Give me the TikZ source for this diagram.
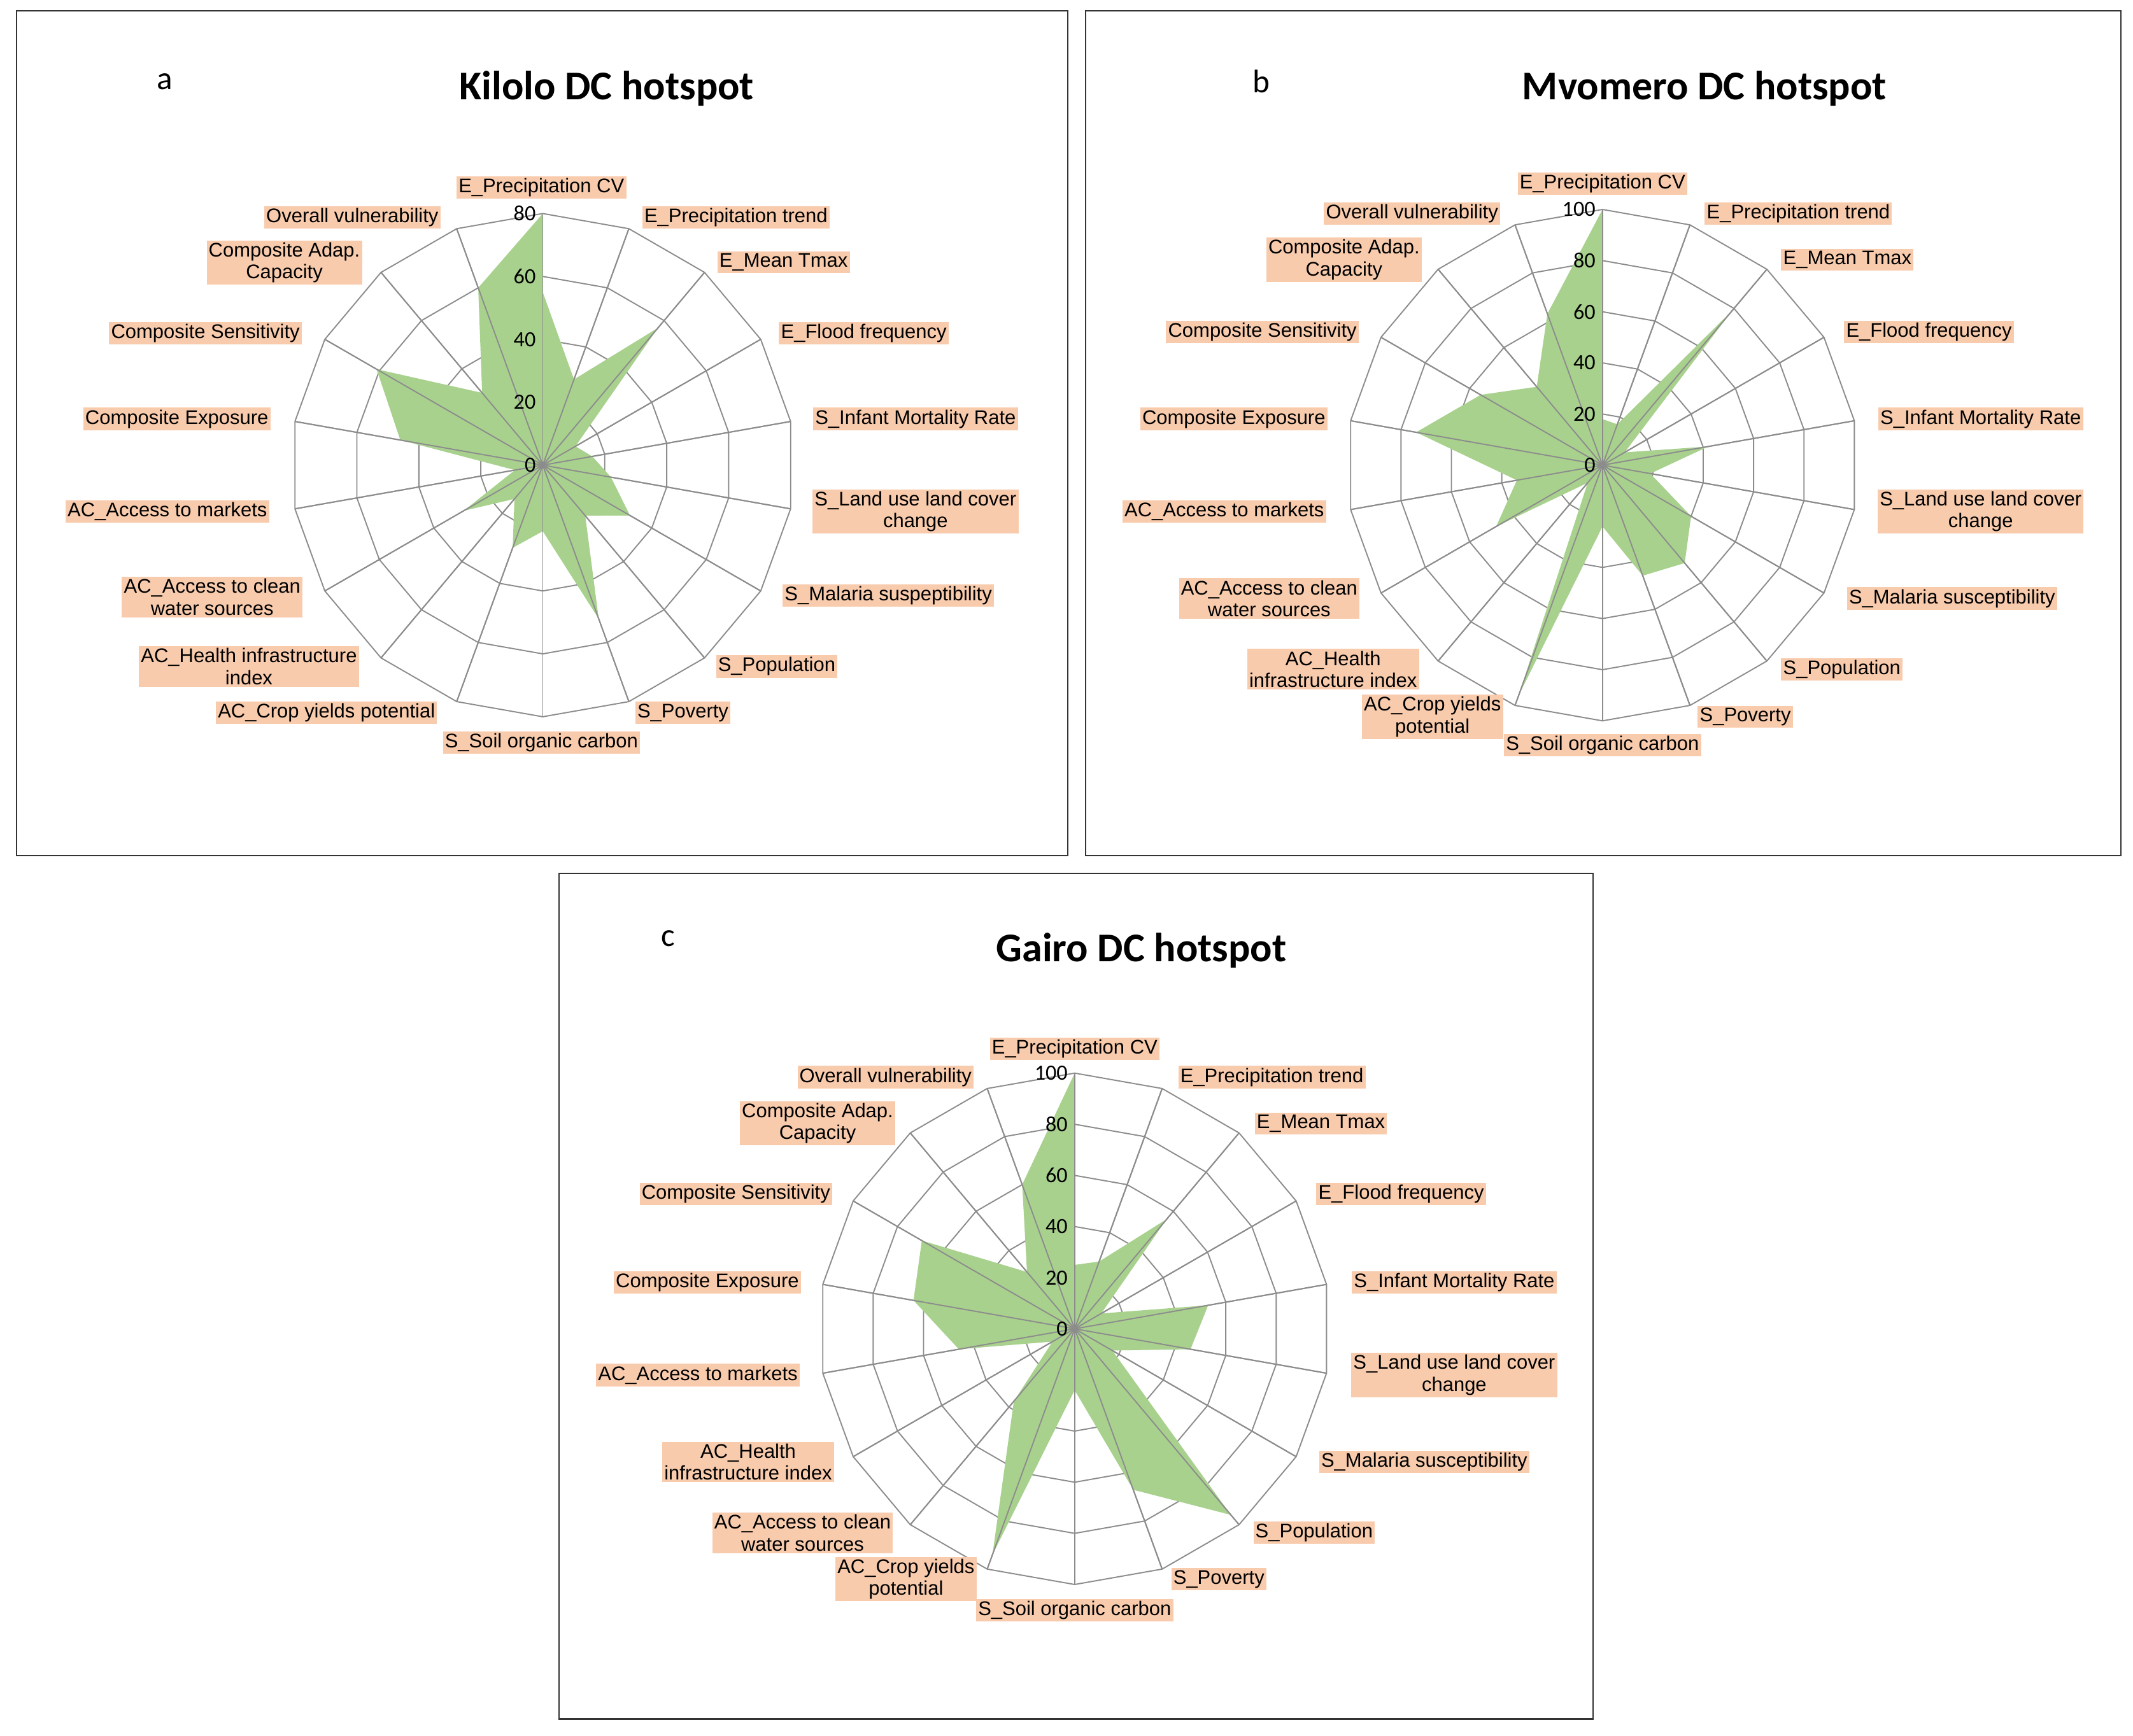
\documentclass[tikz,border=0pt]{standalone}
\usepackage{fontspec}
\setmainfont{Liberation Sans}
\newfontfamily\carl{Carlito}
\definecolor{peach}{HTML}{F8CBAD}
\definecolor{grn}{HTML}{A9D18E}
\definecolor{gridc}{HTML}{8C8C8C}
\tikzset{
 lab/.style={fill=peach,inner sep=1.5pt,font=\fontsize{14.5}{16}\selectfont,align=center},
 tick/.style={font=\carl\fontsize{16}{16}\selectfont,anchor=east,inner sep=1pt},
 ttl/.style={font=\carl\bfseries\fontsize{30}{30}\selectfont},
 letter/.style={font=\carl\fontsize{24}{24}\selectfont},
 grid/.style={draw=gridc,line width=0.9pt},
 frame/.style={draw=black!80,line width=1pt},
}
\newcommand\myradar[6]{% cx cy R nrings maxval values
 \foreach \k in {1,...,#4}{
  \draw[grid] plot[samples at={0,20,...,340}] ({#1+\k/#4*#3*sin(\x)},{#2-\k/#4*#3*cos(\x)}) -- cycle;}
 \foreach \a in {0,20,...,340}{\draw[grid] (#1,#2) -- ({#1+#3*sin(\a)},{#2-#3*cos(\a)});}
 \fill[grn] ({#1},{#2-#3}) foreach \v [count=\i from 0] in {#6}{ -- ({#1+\v/#5*#3*sin(20*\i)},{#2-\v/#5*#3*cos(20*\i)}) } -- cycle;
 \foreach \a in {0,20,...,340}{\draw[grid] (#1,#2) -- ({#1+#3*sin(\a)},{#2-#3*cos(\a)});}
 \fill[gridc] (#1,#2) circle (2.5);
}
\begin{document}
\begin{tikzpicture}[x=1pt,y=-1pt]
\useasboundingbox[fill=white] (0,0) rectangle (1568,1276);
\draw[frame] (12,8) rectangle (785,629);
\draw[frame] (798,8) rectangle (1559,629);
\draw[frame] (411,642) rectangle (1171,1264);
% ---- a
\myradar{399}{342}{185}{4}{80}{55,29,57,12,16,22,32,21,52,21,28,14,29,9,46,61,30,60}
\foreach \v [count=\k from 0] in {0,20,40,60,80}{\node[tick] (ta\k) at (395,{342-\k*46.25}) {\v};}
\node[letter] (la) at (121,60) {a};
\node[ttl] (tla) at (446,65) {Kilolo DC hotspot};
\node[lab] (a0) at (398,138) {E\_Precipitation CV};
\node[lab] (a1) at (541,160) {E\_Precipitation trend};
\node[lab] (a2) at (576,193) {E\_Mean Tmax};
\node[lab] (a3) at (635,245) {E\_Flood frequency};
\node[lab] (a4) at (673,308) {S\_Infant Mortality Rate};
\node[lab] (a5) at (673,376) {S\_Land use land cover\\change};
\node[lab] (a6) at (653,438) {S\_Malaria suspeptibility};
\node[lab] (a7) at (571,490) {S\_Population};
\node[lab] (a8) at (502,524) {S\_Poverty};
\node[lab] (a9) at (398,546) {S\_Soil organic carbon};
\node[lab] (a10) at (240,524) {AC\_Crop yields potential};
\node[lab] (a11) at (183,490) {AC\_Health infrastructure\\index};
\node[lab] (a12) at (156,439) {AC\_Access to clean\\water sources};
\node[lab] (a13) at (123,376) {AC\_Access to markets};
\node[lab] (a14) at (130,308) {Composite Exposure};
\node[lab] (a15) at (151,245) {Composite Sensitivity};
\node[lab] (a16) at (209,193) {Composite Adap.\\Capacity};
\node[lab] (a17) at (259,160) {Overall vulnerability};
% ---- b
\myradar{1178}{342}{188}{5}{100}{18,17,79,10,42,19,40,50,46,24,96,9,48,34,74,55,40,63}
\foreach \v [count=\k from 0] in {0,20,40,60,80,100}{\node[tick] (tb\k) at (1174,{342-\k*37.6}) {\v};}
\node[letter] (lb) at (927,60) {b};
\node[ttl] (tlb) at (1253,65) {Mvomero DC hotspot};
\node[lab] (b0) at (1178,135) {E\_Precipitation CV};
\node[lab] (b1) at (1322,157) {E\_Precipitation trend};
\node[lab] (b2) at (1358,191) {E\_Mean Tmax};
\node[lab] (b3) at (1418,244) {E\_Flood frequency};
\node[lab] (b4) at (1456,308) {S\_Infant Mortality Rate};
\node[lab] (b5) at (1456,376) {S\_Land use land cover\\change};
\node[lab] (b6) at (1435,440) {S\_Malaria susceptibility};
\node[lab] (b7) at (1354,492) {S\_Population};
\node[lab] (b8) at (1283,527) {S\_Poverty};
\node[lab] (b9) at (1178,548) {S\_Soil organic carbon};
\node[lab] (b11) at (980,492) {AC\_Health\\infrastructure index};
\node[lab] (b10) at (1053,527) {AC\_Crop yields\\potential};
\node[lab] (b12) at (933,440) {AC\_Access to clean\\water sources};
\node[lab] (b13) at (900,376) {AC\_Access to markets};
\node[lab] (b14) at (907,308) {Composite Exposure};
\node[lab] (b15) at (928,244) {Composite Sensitivity};
\node[lab] (b16) at (988,191) {Composite Adap.\\Capacity};
\node[lab] (b17) at (1038,157) {Overall vulnerability};
% ---- c
\myradar{790}{977}{188}{5}{100}{25,28,56,12,53,46,17,95,67,24,94,37,10,46,64,69,29,60}
\foreach \v [count=\k from 0] in {0,20,40,60,80,100}{\node[tick] (tc\k) at (786,{977-\k*37.6}) {\v};}
\node[letter] (lc) at (491,690) {c};
\node[ttl] (tlc) at (839,699) {Gairo DC hotspot};
\node[lab] (c0) at (790,771) {E\_Precipitation CV};
\node[lab] (c1) at (935,792) {E\_Precipitation trend};
\node[lab] (c2) at (971,826) {E\_Mean Tmax};
\node[lab] (c3) at (1030,878) {E\_Flood frequency};
\node[lab] (c4) at (1069,943) {S\_Infant Mortality Rate};
\node[lab] (c5) at (1069,1011) {S\_Land use land cover\\change};
\node[lab] (c6) at (1047,1075) {S\_Malaria susceptibility};
\node[lab] (c7) at (966,1127) {S\_Population};
\node[lab] (c8) at (896,1161) {S\_Poverty};
\node[lab] (c9) at (790,1184) {S\_Soil organic carbon};
\node[lab] (c10) at (666,1161) {AC\_Crop yields\\potential};
\node[lab] (c11) at (590,1127) {AC\_Access to clean\\water sources};
\node[lab] (c12) at (550,1075) {AC\_Health\\infrastructure index};
\node[lab] (c13) at (513,1011) {AC\_Access to markets};
\node[lab] (c14) at (520,943) {Composite Exposure};
\node[lab] (c15) at (541,878) {Composite Sensitivity};
\node[lab] (c16) at (601,826) {Composite Adap.\\Capacity};
\node[lab] (c17) at (651,792) {Overall vulnerability};
\end{tikzpicture}
\end{document}
